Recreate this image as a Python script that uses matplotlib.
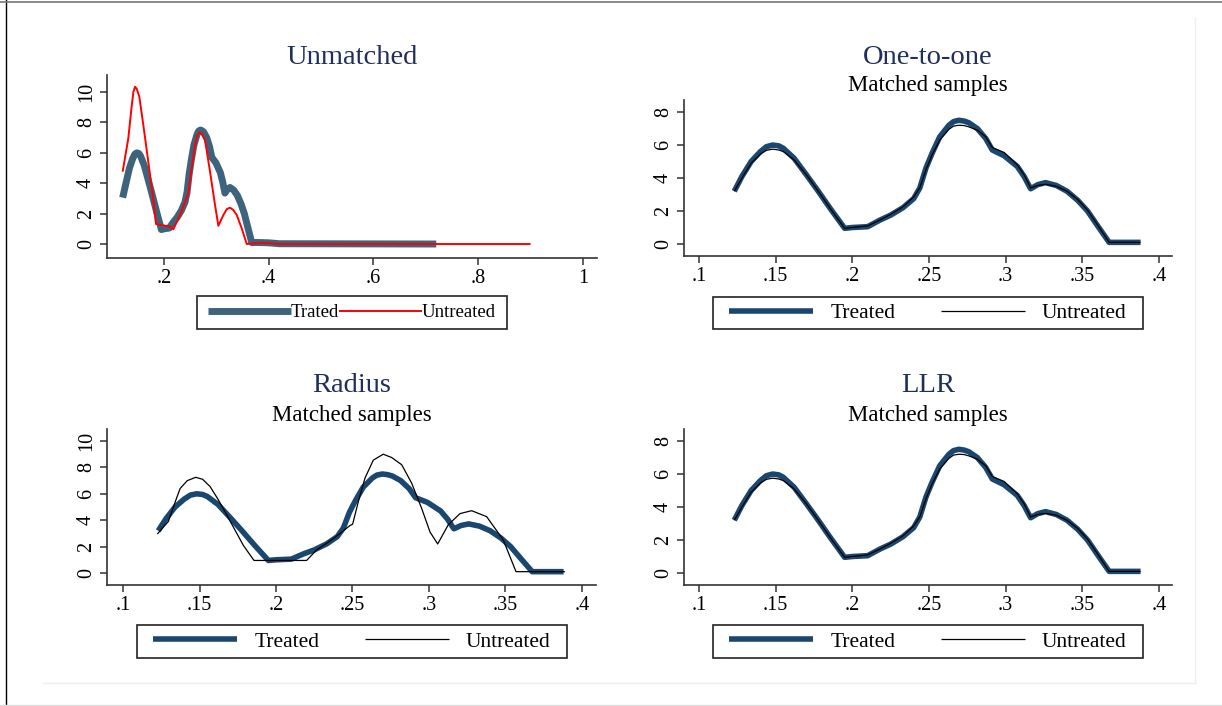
import matplotlib
matplotlib.use('Agg')
import matplotlib.pyplot as plt
from matplotlib.patches import Rectangle
from matplotlib.lines import Line2D

plt.rcParams['font.family'] = ['Liberation Serif', 'DejaVu Serif']

# ── data ─────────────────────────────────────────────
# unmatched sample
unm_treated_x = [0.121, 0.128, 0.134, 0.140, 0.144, 0.148, 0.152, 0.155, 0.162, 0.170, 0.177, 0.186,
                 0.195, 0.200, 0.210, 0.218, 0.225, 0.233, 0.240, 0.244, 0.248, 0.252,
                 0.257, 0.263, 0.266, 0.2695, 0.273, 0.276, 0.2815, 0.287, 0.2913, 0.299, 0.3076, 0.312,
                 0.3163, 0.321, 0.326, 0.333, 0.340, 0.347, 0.3534, 0.360, 0.3675, 0.380,
                 0.400, 0.420, 0.720]
unm_treated_y = [3.05, 4.1, 5.0, 5.6, 5.9, 6.0, 5.95, 5.8, 5.2, 4.2, 3.3, 2.1,
                 0.95, 1.0, 1.05, 1.45, 1.75, 2.2, 2.75, 3.4, 4.6, 5.5,
                 6.5, 7.2, 7.42, 7.5, 7.45, 7.35, 7.0, 6.4, 5.7, 5.35, 4.7, 4.1,
                 3.35, 3.6, 3.72, 3.55, 3.2, 2.65, 2.0, 1.1, 0.1, 0.1,
                 0.08, 0.02, 0.0]
unm_untreated_x = [0.121, 0.1318, 0.138, 0.1415, 0.1446, 0.148, 0.1528, 0.1605, 0.170, 0.1784, 0.1847, 0.195,
                   0.2115, 0.2178, 0.2306, 0.2465, 0.251, 0.2592, 0.2635, 0.2675, 0.272, 0.2783, 0.2879, 0.2974,
                   0.3038, 0.3134, 0.320, 0.3261, 0.332, 0.3389, 0.3484, 0.358, 0.375, 0.390, 0.420, 0.900]
unm_untreated_y = [4.76, 6.95, 9.0, 10.0, 10.35, 10.2, 9.7, 7.83, 5.4, 3.22, 1.32, 1.25,
                   1.14, 0.97, 1.91, 3.33, 4.54, 6.51, 7.15, 7.35, 7.25, 6.84, 4.76, 2.57,
                   1.2, 1.91, 2.3, 2.39, 2.25, 1.91, 1.03, 0.0, 0.05, 0.08, 0.0, 0.0]

# matched samples: treated density (same in all three methods)
treated_x = [0.123, 0.128, 0.134, 0.140, 0.144, 0.148, 0.152, 0.155, 0.162, 0.170, 0.177, 0.186,
             0.195, 0.200, 0.210, 0.218, 0.225, 0.233, 0.240, 0.244, 0.248, 0.252,
             0.257, 0.263, 0.266, 0.2695, 0.273, 0.276, 0.2815, 0.287, 0.2913, 0.299, 0.3076, 0.312,
             0.3163, 0.321, 0.326, 0.333, 0.340, 0.347, 0.3534, 0.360, 0.3675, 0.378,
             0.388]
treated_y = [3.2, 4.1, 5.0, 5.6, 5.9, 6.0, 5.95, 5.8, 5.2, 4.2, 3.3, 2.1,
             0.95, 1.0, 1.05, 1.45, 1.75, 2.2, 2.75, 3.4, 4.6, 5.5,
             6.5, 7.2, 7.42, 7.5, 7.45, 7.35, 7.0, 6.4, 5.7, 5.35, 4.7, 4.1,
             3.35, 3.6, 3.72, 3.55, 3.2, 2.65, 2.0, 1.1, 0.1, 0.1,
             0.1]

# one-to-one / LLR untreated
nn_untreated_x = treated_x
nn_untreated_y = [3.2, 4.0, 4.9, 5.45, 5.68, 5.75, 5.7, 5.6, 5.1, 4.2, 3.3, 2.1,
                  0.95, 1.0, 1.1, 1.45, 1.8, 2.25, 2.85, 3.4, 4.5, 5.4,
                  6.3, 6.95, 7.15, 7.2, 7.18, 7.1, 6.9, 6.5, 5.85, 5.55, 4.8, 4.2,
                  3.4, 3.55, 3.62, 3.5, 3.2, 2.7, 2.05, 1.15, 0.1, 0.1,
                  0.1]
llr_untreated_x = nn_untreated_x
llr_untreated_y = nn_untreated_y

# radius untreated
rad_untreated_x = [0.1224, 0.1265, 0.1296, 0.1335, 0.1373, 0.142, 0.1475, 0.152, 0.1569, 0.162,
                   0.1678, 0.1786, 0.1856, 0.200, 0.220, 0.2266, 0.2375, 0.2484, 0.2501, 0.2538,
                   0.2582, 0.2636, 0.2701, 0.2756, 0.2822, 0.2887, 0.2952, 0.3007, 0.3057, 0.3126,
                   0.3203, 0.3279, 0.3377, 0.3486, 0.3569, 0.370, 0.3889]
rad_untreated_y = [2.95, 3.5, 3.9, 5.2, 6.4, 7.0, 7.25, 7.1, 6.55, 5.6,
                   4.4, 2.1, 0.95, 0.95, 0.95, 1.75, 2.6, 3.6, 3.7, 5.4,
                   7.2, 8.55, 9.0, 8.75, 8.2, 6.8, 4.9, 3.1, 2.2, 3.65,
                   4.5, 4.72, 4.27, 2.5, 0.1, 0.1, 0.1]

xt_unm = [0.2, 0.4, 0.6, 0.8, 1.0]
xl_unm = ['.2', '.4', '.6', '.8', '1']
xt_m = [0.1, 0.15, 0.2, 0.25, 0.3, 0.35, 0.4]
xl_m = ['.1', '.15', '.2', '.25', '.3', '.35', '.4']
yt10 = [0, 2, 4, 6, 8, 10]
yt8 = [0, 2, 4, 6, 8]
# ─────────────────────────────────────────────────────

NAVY = '#1a476f'
EDK = '#3e647d'
TITLE = '#1f2f5a'
W, H = 1222, 706

fig = plt.figure(figsize=(W / 100, H / 100), dpi=100)
fig.patch.set_facecolor('white')


def px_box(l, t, r, b):
    return [l / W, 1 - b / H, (r - l) / W, (b - t) / H]


def setup(ax, xlim, ylim, xticks, xlabels, yticks):
    for s in ['top', 'right']:
        ax.spines[s].set_visible(False)
    for s in ['left', 'bottom']:
        ax.spines[s].set_color('#333333')
        ax.spines[s].set_linewidth(1.2)
    ax.set_xlim(*xlim)
    ax.set_ylim(*ylim)
    ax.set_xticks(xticks)
    ax.set_xticklabels(xlabels)
    ax.set_yticks(yticks)
    ax.set_yticklabels([str(v) for v in yticks], rotation=90, va='center')
    ax.tick_params(length=5, width=1.1, color='#333333', labelsize=14.5, pad=3)


def titles(cx, ty, title, sy=None):
    fig.text(cx / W, 1 - ty / H, title, ha='center', va='center',
             fontsize=20.5, color=TITLE)
    if sy is not None:
        fig.text(cx / W, 1 - sy / H, 'Matched samples', ha='center', va='center',
                 fontsize=16.5, color='black')


def legend_box(ax, l, t, r, b, fs, hl, htp, cs, labels):
    fig.patches.append(Rectangle((l / W, 1 - b / H), (r - l) / W, (b - t) / H,
                                 transform=fig.transFigure, fill=False,
                                 ec='#222222', lw=1.2))
    ax.legend(labels=labels, ncol=2, loc='center',
              bbox_to_anchor=((l + r) / 2 / W, 1 - (t + b) / 2 / H),
              bbox_transform=fig.transFigure, frameon=False, fontsize=fs,
              handlelength=hl, handletextpad=htp, columnspacing=cs, borderpad=0)


def curve(ax, x, y, color, lw):
    ax.plot(x, y, color=color, lw=lw, solid_capstyle='butt', solid_joinstyle='round')


# panel 1: unmatched
ax1 = fig.add_axes(px_box(107, 75, 597, 258))
curve(ax1, unm_treated_x, unm_treated_y, EDK, 5)
curve(ax1, unm_untreated_x, unm_untreated_y, '#ff0000', 1.4)
setup(ax1, (0.0911, 1.027), (-0.92, 11.12), xt_unm, xl_unm, yt10)
titles(352, 58, 'Unmatched')
legend_box(ax1, 197, 296, 507, 329, 13.5, 4.4, 0.0, 0.0, ['Trated', 'Untreated'])

# panel 2: one-to-one
ax2 = fig.add_axes(px_box(684, 100, 1172, 256))
curve(ax2, treated_x, treated_y, NAVY, 4)
curve(ax2, nn_untreated_x, nn_untreated_y, 'black', 0.9)
setup(ax2, (0.0902, 0.4085), (-0.727, 8.73), xt_m, xl_m, yt8)
titles(928, 58, 'One-to-one', 86)
legend_box(ax2, 713, 297, 1143, 329, 15.5, 3.9, 0.8, 2.1, ['Treated', 'Untreated'])

# panel 3: radius
ax3 = fig.add_axes(px_box(107, 429, 596, 585))
curve(ax3, treated_x, treated_y, NAVY, 4)
curve(ax3, rad_untreated_x, rad_untreated_y, 'black', 0.9)
setup(ax3, (0.0895, 0.4092), (-0.91, 10.91), xt_m, xl_m, yt10)
titles(352, 386, 'Radius', 415)
legend_box(ax3, 137, 625, 567, 658, 15.5, 3.9, 0.8, 2.1, ['Treated', 'Untreated'])

# panel 4: LLR
ax4 = fig.add_axes(px_box(684, 429, 1172, 585))
curve(ax4, treated_x, treated_y, NAVY, 4)
curve(ax4, llr_untreated_x, llr_untreated_y, 'black', 0.9)
setup(ax4, (0.0902, 0.4085), (-0.727, 8.73), xt_m, xl_m, yt8)
titles(928, 386, 'LLR', 415)
legend_box(ax4, 713, 625, 1143, 658, 15.5, 3.9, 0.8, 2.1, ['Treated', 'Untreated'])

# page border lines
tf = fig.transFigure
fig.add_artist(Line2D([5.5 / W, 5.5 / W], [0, 1], transform=tf, color='black', lw=1))
fig.add_artist(Line2D([0, 1], [1 - 2 / H, 1 - 2 / H], transform=tf, color='#777777', lw=1.2))
fig.add_artist(Line2D([0, 1], [1 - 704.5 / H, 1 - 704.5 / H], transform=tf, color='#dddddd', lw=1))
fig.add_artist(Line2D([43 / W, 1195 / W], [1 - 683 / H, 1 - 683 / H], transform=tf, color='#eeeeee', lw=1))
fig.add_artist(Line2D([1195 / W, 1195 / W], [1 - 18 / H, 1 - 683 / H], transform=tf, color='#eeeeee', lw=1))

fig.savefig('out.png', dpi=100)
